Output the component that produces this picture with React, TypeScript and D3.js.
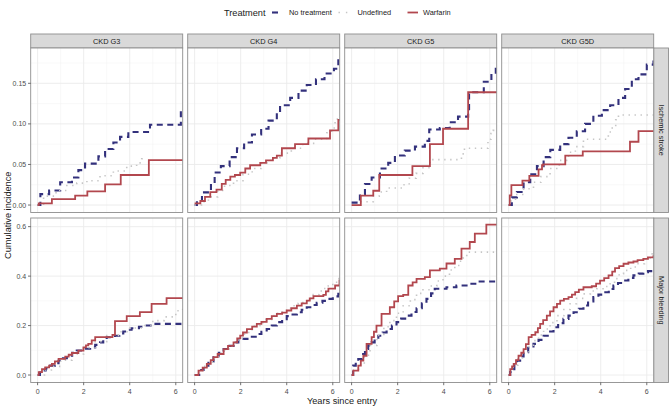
import React from "react";
import * as d3 from "d3";

type Pt = [number, number];

const stages = ["CKD G3", "CKD G4", "CKD G5", "CKD G5D"];
const outcomes = ["Ischemic stroke", "Major bleeding"];
const treatments = ["No treatment", "Undefined", "Warfarin"];
const xTicks = [0, 2, 4, 6];
const xMinor = [1, 3, 5];
const yTicksStroke = [0, 0.05, 0.1, 0.15];
const yMinorStroke = [0.025, 0.075, 0.125, 0.175];
const yTicksBleed = [0, 0.2, 0.4, 0.6];
const yMinorBleed = [0.1, 0.3, 0.5];

// Ischemic stroke
const strokeG3None: Pt[] = [[0,0],[0.12,0.0135],[0.5,0.018],[0.98,0.028],[1.49,0.034],[1.77,0.043],[2.06,0.051],[2.64,0.06],[2.93,0.069],[3.29,0.077],[3.58,0.084],[3.94,0.09],[4.88,0.099],[6.22,0.118],[6.4,0.118]];
const strokeG3Undef: Pt[] = [[0,0],[0.26,0.011],[0.8,0.018],[1.27,0.024],[1.7,0.027],[2.14,0.03],[2.71,0.036],[3.29,0.042],[3.87,0.048],[4.3,0.052],[4.52,0.057],[4.6,0.057]];
const strokeG3Warf: Pt[] = [[0,0],[0.05,0.002],[0.62,0.0074],[1.63,0.0115],[2.16,0.0168],[2.93,0.0254],[3.61,0.037],[4.83,0.0553],[6.4,0.0553]];

const strokeG4None: Pt[] = [[0,0],[0.1,0.005],[0.32,0.0156],[0.71,0.027],[0.87,0.04],[1.14,0.048],[1.52,0.059],[1.84,0.07],[2.15,0.077],[2.49,0.087],[2.89,0.094],[3.21,0.104],[3.57,0.114],[3.71,0.123],[4.15,0.132],[4.51,0.141],[4.87,0.148],[5.27,0.155],[5.64,0.162],[6.05,0.168],[6.24,0.182],[6.4,0.184]];
const strokeG4Undef: Pt[] = [[0,0],[0.3,0.004],[0.6,0.01],[1.0,0.018],[1.3,0.024],[1.69,0.03],[2.1,0.038],[2.5,0.045],[2.9,0.052],[3.3,0.058],[3.7,0.064],[4.2,0.07],[4.7,0.076],[5.2,0.081],[5.74,0.089],[5.95,0.095],[6.1,0.106],[6.4,0.106]];
const strokeG4Warf: Pt[] = [[0,0.002],[0.25,0.005],[0.45,0.01],[0.68,0.016],[0.95,0.019],[1.18,0.026],[1.35,0.031],[1.55,0.035],[1.75,0.037],[1.98,0.04],[2.2,0.045],[2.41,0.049],[2.85,0.052],[3.1,0.055],[3.4,0.058],[3.57,0.061],[3.79,0.07],[4.36,0.075],[4.94,0.082],[5.88,0.092],[6.24,0.105],[6.4,0.105]];

const strokeG5None: Pt[] = [[0,0.003],[0.36,0.0135],[0.58,0.026],[0.87,0.034],[1.23,0.045],[1.59,0.052],[1.88,0.061],[2.31,0.067],[2.75,0.072],[3.18,0.079],[3.37,0.093],[3.83,0.095],[4.26,0.102],[4.62,0.109],[5.06,0.118],[5.1,0.139],[5.74,0.152],[6.07,0.163],[6.26,0.17],[6.4,0.172]];
const strokeG5Undef: Pt[] = [[0,0],[0.3,0.004],[0.94,0.011],[1.2,0.016],[1.52,0.021],[2.2,0.025],[2.5,0.033],[2.8,0.039],[3.1,0.046],[3.4,0.056],[4.77,0.063],[4.9,0.07],[5.92,0.081],[6.05,0.088],[6.15,0.092],[6.4,0.092]];
const strokeG5Warf: Pt[] = [[0,0],[0.4,0.0115],[0.94,0.0176],[1.2,0.037],[2.64,0.048],[3.4,0.075],[3.97,0.094],[5.06,0.139],[6.4,0.139]];

const strokeG5DNone: Pt[] = [[0,0],[0.14,0.0094],[0.36,0.016],[0.65,0.028],[0.94,0.038],[1.23,0.048],[1.52,0.059],[1.81,0.068],[2.24,0.075],[2.6,0.083],[2.96,0.091],[3.32,0.1],[3.68,0.11],[4.05,0.117],[4.41,0.123],[4.77,0.132],[5.06,0.143],[5.35,0.155],[5.64,0.161],[6.0,0.173],[6.29,0.18],[6.4,0.18]];
const strokeG5DUndef: Pt[] = [[0,0],[0.1,0.005],[0.3,0.013],[0.65,0.02],[1.08,0.028],[1.4,0.035],[1.8,0.045],[2.2,0.055],[2.6,0.065],[2.9,0.072],[3.25,0.081],[4.33,0.09],[4.5,0.098],[4.65,0.105],[4.77,0.111],[6.4,0.111]];
const strokeG5DWarf: Pt[] = [[0,0],[0.05,0.012],[0.12,0.0246],[0.6,0.03],[0.9,0.036],[1.3,0.044],[1.45,0.049],[1.5,0.05],[2.46,0.061],[3.22,0.066],[5.27,0.078],[5.64,0.091],[6.4,0.091]];

// Major bleeding
const bleedG3None: Pt[] = [[0,0],[0.1,0.01],[0.19,0.018],[0.35,0.027],[0.55,0.038],[0.75,0.048],[0.91,0.058],[1.1,0.068],[1.27,0.078],[1.5,0.09],[1.7,0.099],[2.0,0.106],[2.28,0.112],[2.5,0.122],[2.71,0.132],[2.85,0.142],[3.0,0.153],[3.36,0.159],[3.55,0.168],[3.72,0.176],[3.9,0.183],[4.08,0.189],[4.4,0.195],[4.66,0.2],[5.02,0.207],[6.4,0.207]];
const bleedG3Undef: Pt[] = [[0,0],[0.3,0.02],[0.6,0.035],[1.0,0.06],[1.5,0.085],[2.0,0.11],[2.5,0.135],[3.0,0.16],[3.5,0.175],[4.0,0.19],[4.5,0.2],[5.0,0.22],[5.5,0.235],[6.0,0.26],[6.3,0.27],[6.4,0.27]];
const bleedG3Warf: Pt[] = [[0,0],[0.05,0.012],[0.19,0.024],[0.33,0.031],[0.5,0.038],[0.62,0.045],[0.75,0.055],[0.91,0.065],[1.2,0.074],[1.35,0.082],[1.49,0.089],[1.77,0.099],[1.99,0.112],[2.1,0.12],[2.2,0.126],[2.35,0.14],[2.5,0.153],[3.25,0.162],[3.36,0.218],[3.87,0.238],[4.44,0.254],[4.95,0.288],[5.6,0.311],[6.4,0.311]];

const bleedG4None: Pt[] = [[0,0],[0.2,0.02],[0.39,0.038],[0.6,0.055],[0.82,0.072],[1.05,0.09],[1.26,0.105],[1.45,0.118],[1.69,0.132],[1.9,0.14],[2.12,0.146],[2.4,0.155],[2.7,0.166],[2.9,0.175],[3.13,0.186],[3.35,0.2],[3.57,0.214],[3.8,0.226],[4.0,0.238],[4.2,0.245],[4.44,0.254],[4.65,0.264],[4.87,0.274],[5.1,0.283],[5.3,0.292],[5.55,0.3],[5.81,0.308],[6.0,0.318],[6.24,0.328],[6.4,0.33]];
const bleedG4Undef: Pt[] = [[0,0],[0.2,0.018],[0.4,0.035],[0.6,0.052],[0.8,0.068],[1.05,0.088],[1.3,0.105],[1.5,0.118],[1.7,0.132],[1.9,0.15],[2.1,0.165],[2.35,0.183],[2.6,0.2],[2.85,0.212],[3.1,0.225],[3.35,0.24],[3.6,0.255],[3.8,0.262],[4.0,0.27],[4.25,0.28],[4.5,0.29],[4.7,0.3],[4.9,0.31],[5.15,0.325],[5.4,0.34],[5.6,0.35],[5.8,0.36],[6.0,0.375],[6.2,0.39],[6.4,0.396]];
const bleedG4Warf: Pt[] = [[0,0],[0.17,0.018],[0.35,0.03],[0.53,0.045],[0.7,0.06],[0.82,0.072],[1.0,0.085],[1.26,0.105],[1.45,0.118],[1.69,0.132],[1.85,0.148],[1.98,0.159],[2.1,0.172],[2.27,0.186],[2.5,0.196],[2.7,0.207],[2.9,0.215],[3.13,0.227],[3.35,0.238],[3.57,0.247],[3.8,0.252],[4.0,0.261],[4.2,0.27],[4.44,0.281],[4.65,0.29],[4.87,0.301],[5.0,0.31],[5.16,0.319],[5.59,0.324],[5.7,0.338],[5.81,0.349],[6.1,0.362],[6.29,0.382],[6.4,0.382]];

const bleedG5None: Pt[] = [[0,0],[0.07,0.038],[0.18,0.05],[0.29,0.065],[0.45,0.085],[0.58,0.105],[0.72,0.12],[0.87,0.132],[1.0,0.145],[1.16,0.159],[1.35,0.172],[1.52,0.186],[1.75,0.2],[1.95,0.214],[2.15,0.228],[2.38,0.24],[2.6,0.255],[2.82,0.27],[3.05,0.29],[3.25,0.308],[3.45,0.33],[3.61,0.349],[4.12,0.355],[4.55,0.362],[4.99,0.369],[5.56,0.378],[6.26,0.385],[6.4,0.385]];
const bleedG5Undef: Pt[] = [[0,0],[0.1,0.02],[0.3,0.04],[0.55,0.08],[0.8,0.12],[1.1,0.16],[1.4,0.195],[1.66,0.22],[1.95,0.25],[2.24,0.28],[2.55,0.305],[2.82,0.33],[3.1,0.345],[3.4,0.36],[3.7,0.38],[3.97,0.4],[4.25,0.425],[4.48,0.443],[4.7,0.46],[4.84,0.473],[5.0,0.497],[6.4,0.504]];
const bleedG5Warf: Pt[] = [[0,0],[0.07,0.018],[0.29,0.038],[0.4,0.058],[0.51,0.078],[0.65,0.126],[0.87,0.153],[0.97,0.175],[1.08,0.2],[1.3,0.247],[1.66,0.274],[1.85,0.298],[2.02,0.319],[2.24,0.324],[2.46,0.362],[2.65,0.375],[2.82,0.389],[3.18,0.396],[3.4,0.423],[3.83,0.43],[4.12,0.451],[4.48,0.47],[4.77,0.511],[5.13,0.538],[5.35,0.572],[5.85,0.608],[6.4,0.608]];

const bleedG5DNone: Pt[] = [[0,0],[0.07,0.012],[0.14,0.024],[0.25,0.042],[0.36,0.058],[0.5,0.075],[0.65,0.092],[0.85,0.11],[1.08,0.126],[1.3,0.142],[1.52,0.159],[1.75,0.176],[1.95,0.193],[2.15,0.21],[2.38,0.227],[2.6,0.24],[2.82,0.254],[3.05,0.268],[3.25,0.281],[3.45,0.298],[3.68,0.315],[3.9,0.325],[4.12,0.335],[4.35,0.348],[4.55,0.362],[4.75,0.372],[4.99,0.382],[5.2,0.393],[5.42,0.403],[5.65,0.41],[5.85,0.416],[6.05,0.42],[6.29,0.423],[6.4,0.423]];
const bleedG5DUndef: Pt[] = [[0,0],[0.1,0.02],[0.2,0.04],[0.4,0.065],[0.6,0.09],[0.85,0.115],[1.08,0.139],[1.3,0.162],[1.52,0.186],[1.8,0.212],[2.1,0.24],[2.4,0.265],[2.67,0.288],[2.95,0.31],[3.25,0.328],[3.55,0.34],[3.83,0.349],[4.1,0.358],[4.41,0.369],[4.6,0.39],[4.8,0.41],[4.99,0.423],[5.3,0.437],[5.56,0.45],[5.9,0.47],[6.15,0.49],[6.29,0.5],[6.4,0.5]];
const bleedG5DWarf: Pt[] = [[0,0],[0.07,0.024],[0.15,0.035],[0.22,0.045],[0.32,0.06],[0.43,0.078],[0.55,0.09],[0.65,0.105],[0.75,0.125],[0.87,0.153],[1.0,0.162],[1.16,0.173],[1.27,0.19],[1.37,0.207],[1.5,0.222],[1.66,0.24],[1.8,0.257],[1.95,0.274],[2.1,0.288],[2.24,0.301],[2.4,0.308],[2.6,0.315],[2.75,0.325],[2.89,0.335],[3.05,0.345],[3.25,0.355],[3.61,0.359],[3.8,0.37],[3.97,0.382],[4.15,0.392],[4.34,0.403],[4.5,0.418],[4.62,0.432],[4.8,0.44],[4.99,0.45],[5.2,0.455],[5.42,0.459],[5.6,0.465],[5.85,0.47],[6.05,0.476],[6.29,0.481],[6.4,0.481]];

const panelData: Pt[][][][] = [
  [
    [strokeG3None, strokeG3Undef, strokeG3Warf],
    [strokeG4None, strokeG4Undef, strokeG4Warf],
    [strokeG5None, strokeG5Undef, strokeG5Warf],
    [strokeG5DNone, strokeG5DUndef, strokeG5DWarf],
  ],
  [
    [bleedG3None, bleedG3Undef, bleedG3Warf],
    [bleedG4None, bleedG4Undef, bleedG4Warf],
    [bleedG5None, bleedG5Undef, bleedG5Warf],
    [bleedG5DNone, bleedG5DUndef, bleedG5DWarf],
  ],
];

const colors = ["#33317C", "#C6C6C6", "#B2474E"];
const widths = [2.1, 1.6, 1.8];
const dashes = ["6,4.5", "1.4,4.6", "none"];

const FONT = "'Liberation Sans', Arial, Helvetica, sans-serif";

export default function App() {
  const W = 669, H = 407;
  const colX = [30.7, 187.7, 344.7, 501.7];
  const panelW = 152;
  const rowY = [48, 218];
  const panelH = 164.5;
  const stripTop = 34;
  const stripRightX = 653.7;
  const stripRightW = 14.8;
  const border = "#8E8E8E";

  const x = d3.scaleLinear().domain([-0.3, 6.3]).range([0, panelW]);
  const yScales = [
    d3.scaleLinear().domain([-0.0092, 0.1935]).range([panelH, 0]),
    d3.scaleLinear().domain([-0.03025, 0.635]).range([panelH, 0]),
  ];
  const yTicks = [yTicksStroke, yTicksBleed];
  const yMinor = [yMinorStroke, yMinorBleed];
  const yFmt = [d3.format(".2f"), d3.format(".1f")];

  return (
    <svg width={W} height={H} style={{ position: "absolute", left: 0, top: 0, background: "#fff" }} fontFamily={FONT}>
      <defs>
        <clipPath id="pclip">
          <rect x={0} y={0} width={panelW} height={panelH} />
        </clipPath>
      </defs>
      <rect width={W} height={H} fill="#fff" />

      {/* Legend */}
      <g>
        <text x={224} y={15.5} fontSize={9.2} fill="#1a1a1a">Treatment</text>
        <line x1={270} x2={280} y1={12.5} y2={12.5} stroke={colors[0]} strokeWidth={2.1} strokeDasharray="6,4" strokeDashoffset={-2} />
        <text x={289} y={15} fontSize={7.4} fill="#1a1a1a">{treatments[0]}</text>
        <line x1={338.5} x2={350} y1={12.5} y2={12.5} stroke={colors[1]} strokeWidth={1.6} strokeDasharray="1.4,6" />
        <text x={357.5} y={15} fontSize={7.4} fill="#1a1a1a">{treatments[1]}</text>
        <line x1={407.5} x2={418} y1={12.5} y2={12.5} stroke={colors[2]} strokeWidth={1.8} />
        <text x={423} y={15} fontSize={7.4} fill="#1a1a1a">{treatments[2]}</text>
      </g>

      {/* Top strips */}
      {stages.map((s, ci) => (
        <g key={s} transform={`translate(${colX[ci]},${stripTop})`}>
          <rect x={0} y={0} width={panelW} height={rowY[0] - stripTop} fill="#D9D9D9" stroke={border} strokeWidth={0.9} />
          <text x={panelW / 2} y={(rowY[0] - stripTop) / 2 + 2.6} textAnchor="middle" fontSize={7.4} fill="#1a1a1a">{s}</text>
        </g>
      ))}

      {/* Right strips */}
      {outcomes.map((o, ri) => (
        <g key={o} transform={`translate(${stripRightX},${rowY[ri]})`}>
          <rect x={0} y={0} width={stripRightW} height={panelH} fill="#D9D9D9" stroke={border} strokeWidth={0.9} />
          <text transform={`translate(${stripRightW / 2 - 2.6},${panelH / 2}) rotate(90)`} textAnchor="middle" fontSize={7.4} fill="#1a1a1a">{o}</text>
        </g>
      ))}

      {/* Panels */}
      {outcomes.map((o, ri) =>
        stages.map((s, ci) => {
          const y = yScales[ri];
          const line = d3.line<Pt>().x(d => x(d[0])).y(d => y(d[1])).curve(d3.curveStepAfter);
          return (
            <g key={o + s} transform={`translate(${colX[ci]},${rowY[ri]})`}>
              <rect x={0} y={0} width={panelW} height={panelH} fill="#fff" />
              {xMinor.map(v => (
                <line key={"xm" + v} x1={x(v)} x2={x(v)} y1={0} y2={panelH} stroke="#F2F2F2" strokeWidth={0.5} />
              ))}
              {yMinor[ri].map(v => (
                <line key={"ym" + v} x1={0} x2={panelW} y1={y(v)} y2={y(v)} stroke="#F2F2F2" strokeWidth={0.5} />
              ))}
              {xTicks.map(v => (
                <line key={"xg" + v} x1={x(v)} x2={x(v)} y1={0} y2={panelH} stroke="#EBEBEB" strokeWidth={0.9} />
              ))}
              {yTicks[ri].map(v => (
                <line key={"yg" + v} x1={0} x2={panelW} y1={y(v)} y2={y(v)} stroke="#EBEBEB" strokeWidth={0.9} />
              ))}
              <g clipPath="url(#pclip)">
                {panelData[ri][ci].map((series, ti) => (
                  <path key={ti} d={line(series) || ""} fill="none" stroke={colors[ti]} strokeWidth={widths[ti]}
                    strokeDasharray={dashes[ti]} strokeLinecap="butt" strokeLinejoin="miter" />
                ))}
              </g>
              <rect x={0} y={0} width={panelW} height={panelH} fill="none" stroke={border} strokeWidth={0.9} />
              {ci === 0 && yTicks[ri].map(v => (
                <g key={"yt" + v}>
                  <line x1={-2.7} x2={0} y1={y(v)} y2={y(v)} stroke="#333" strokeWidth={0.7} />
                  <text x={-4.5} y={y(v) + 2.5} textAnchor="end" fontSize={7} fill="#4D4D4D">{yFmt[ri](v)}</text>
                </g>
              ))}
              {ri === 1 && xTicks.map(v => (
                <g key={"xt" + v}>
                  <line x1={x(v)} x2={x(v)} y1={panelH} y2={panelH + 2.7} stroke="#333" strokeWidth={0.7} />
                  <text x={x(v)} y={panelH + 11} textAnchor="middle" fontSize={7} fill="#4D4D4D">{v}</text>
                </g>
              ))}
            </g>
          );
        })
      )}

      {/* Axis titles */}
      <text x={342} y={404} textAnchor="middle" fontSize={9.2} fill="#1a1a1a">Years since entry</text>
      <text transform={`translate(10.5,${(rowY[0] + rowY[1] + panelH) / 2}) rotate(-90)`} textAnchor="middle" fontSize={9.2} fill="#1a1a1a">Cumulative incidence</text>
    </svg>
  );
}
